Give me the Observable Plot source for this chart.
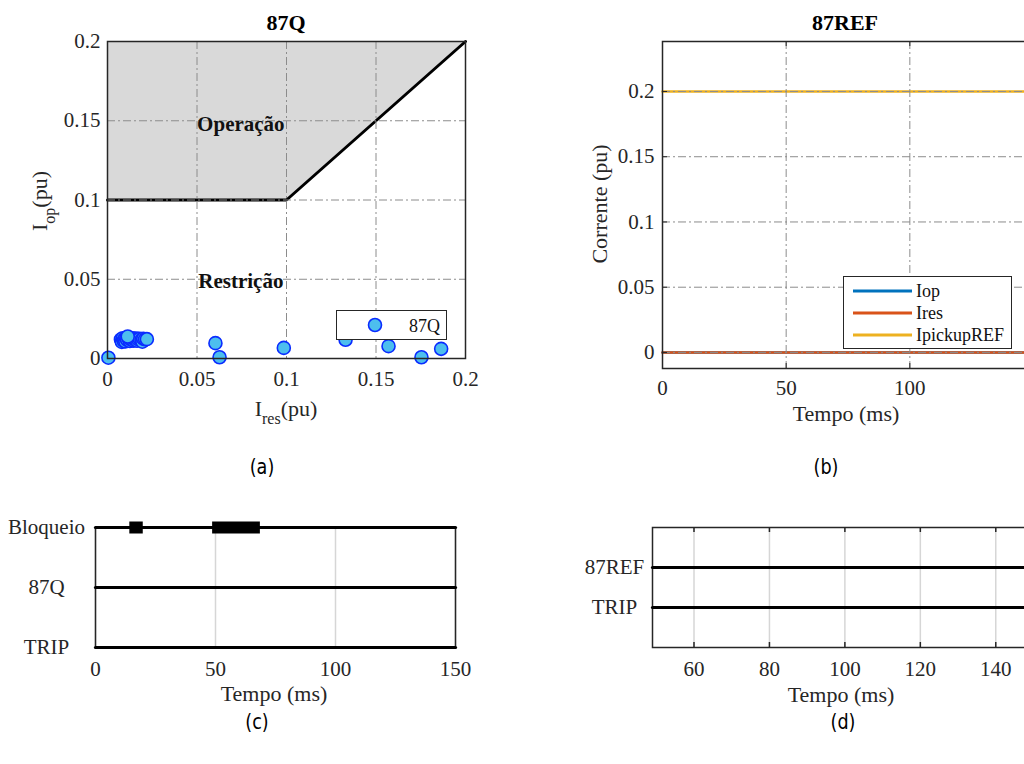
<!DOCTYPE html>
<html>
<head>
<meta charset="utf-8">
<script src="https://cdn.jsdelivr.net/npm/d3@7"></script>
<script src="https://cdn.jsdelivr.net/npm/@observablehq/plot@0.6"></script>
<style>
  body { margin: 0; background: #fff; }
  #fig { position: relative; width: 1024px; height: 764px; overflow: hidden; background: #fff;
         font-family: "Liberation Serif", "Times New Roman", serif; color: #262626; }
  .panel { position: absolute; width: 500px; }
  .panel svg { max-width: none !important; }
  .lbl { position: absolute; white-space: nowrap; line-height: 1; }
  .legend { position: absolute; background: #fff; border: 1.5px solid #262626; box-sizing: border-box;
            font-family: "Liberation Serif", serif; font-size: 18px; color: #111; }
  .legend .row { position: absolute; white-space: nowrap; line-height: 1; }
</style>
</head>
<body>
<div id="fig"></div>
<script>
// ---------------- DATA ----------------
// (a) 87Q characteristic
const charIres = [0, 0.1, 0.2];
const charIop  = [0.1, 0.1, 0.2];
// (a) measured operating points
const ptIres = [0.0005, 0.0603, 0.0626, 0.0985, 0.133, 0.157, 0.1754, 0.1864,
  0.0075, 0.0080, 0.0085, 0.0090, 0.0095, 0.0100, 0.0105, 0.0110, 0.0120, 0.0125, 0.0130,
  0.0140, 0.0145, 0.0150, 0.0160, 0.0165, 0.0170, 0.0180, 0.0190, 0.0195, 0.0200, 0.0210, 0.0220, 0.0113];
const ptIop = [0.0005, 0.0097, 0.0008, 0.0067, 0.0118, 0.0078, 0.0008, 0.0061,
  0.0120, 0.0105, 0.0128, 0.0112, 0.0122, 0.0108, 0.0130, 0.0118, 0.0125, 0.0110, 0.0121,
  0.0127, 0.0113, 0.0123, 0.0126, 0.0112, 0.0122, 0.0124, 0.0118, 0.0106, 0.0125, 0.0121, 0.0122, 0.0139];
const ticksA = [0, 0.05, 0.1, 0.15, 0.2];
const tickLabelsA = ["0", "0.05", "0.1", "0.15", "0.2"];
const regionNames = ["Operação", "Restrição"];
const regionIres  = [0.0745, 0.0745];
const regionIop   = [0.148, 0.049];

// (b) 87REF currents
const tempoB = [0, 150];
const seriesNames  = ["Iop", "Ires", "IpickupREF"];
const seriesColors = ["#0072BD", "#D95319", "#EDB120"];
const iopB  = [0, 0];
const iresB = [0, 0];
const ipickupB = [0.2, 0.2];
const ticksBx = [0, 50, 100, 150];
const tickLabelsBx = ["0", "50", "100", ""];   // 150 falls outside the cropped figure
const ticksBy = [0, 0.05, 0.1, 0.15, 0.2];
const tickLabelsBy = ["0", "0.05", "0.1", "0.15", "0.2"];

// (c) digital signals 87Q
const signalsC = ["TRIP", "87Q", "Bloqueio"];
const levelsC  = [0, 1, 2];
const tempoC   = [0, 150];
const blockStart = [14.3, 48.8];
const blockEnd   = [19.9, 68.7];
const ticksC = [0, 50, 100, 150];

// (d) digital signals 87REF
const signalsD = ["TRIP", "87REF"];
const levelsD  = [1, 2];
const tempoD   = [49, 150];
const ticksD   = [60, 80, 100, 120, 140];

// ---------------- HELPERS ----------------
const fig = document.getElementById("fig");
const FONT = "Liberation Serif, Times New Roman, serif";
const baseStyle = { fontFamily: FONT, fontSize: "21px", color: "#262626", background: "transparent", overflow: "visible" };
const tickText = { fontFamily: FONT, fontSize: 21, fill: "#262626" };
const gridDash = "8,3,2,3";

function place(node, left, top) {
  const w = document.createElement("div");
  w.className = "panel"; w.style.left = left + "px"; w.style.top = top + "px";
  w.appendChild(node); fig.appendChild(w);
}
function addLabel(html, x, y, o = {}) {
  const d = document.createElement("div");
  d.className = "lbl"; d.innerHTML = html;
  d.style.left = x + "px"; d.style.top = y + "px";
  d.style.fontSize = (o.size || 22) + "px";
  if (o.bold) d.style.fontWeight = "bold";
  if (o.family) d.style.fontFamily = o.family;
  if (o.color) d.style.color = o.color;
  d.style.transform = "translate(-50%,-50%)" + (o.rotate ? ` rotate(${o.rotate}deg)` : "") + (o.sx ? ` scaleX(${o.sx})` : "");
  fig.appendChild(d);
}
const fmt = (ticks, labels) => d => labels[ticks.indexOf(d)] ?? String(d);

// ---------------- (a) ----------------
const charData = charIres.map((x, i) => ({ x, y: charIop[i], top: ticksA[ticksA.length - 1] }));
const ptsData = ptIres.map((x, i) => ({ x, y: ptIop[i] }));
const regions = regionNames.map((t, i) => ({ t, x: regionIres[i], y: regionIop[i] }));

const plotA = Plot.plot({
  width: 500, height: 430,
  marginLeft: 107, marginRight: 35, marginTop: 41, marginBottom: 72,
  style: baseStyle,
  x: { domain: [0, 0.2] }, y: { domain: [0, 0.2] },
  marks: [
    Plot.areaY(charData, { x: "x", y1: "y", y2: "top", fill: "#d9d9d9" }),
    Plot.line(charData, { x: "x", y: "y", stroke: "#000", strokeWidth: 3 }),
    Plot.gridX(ticksA, { stroke: "#8c8c8c", strokeOpacity: 1, strokeDasharray: gridDash }),
    Plot.gridY(ticksA, { stroke: "#8c8c8c", strokeOpacity: 1, strokeDasharray: gridDash }),
    Plot.text(regions, { x: "x", y: "y", text: "t", fontWeight: "bold", fontSize: 21, fontFamily: FONT, fill: "#111" }),
    Plot.dot(ptsData, { x: "x", y: "y", r: 6.5, fill: "#4DBEEE", stroke: "#0a2cff", strokeWidth: 1.6 }),
    Plot.frame({ stroke: "#262626", strokeWidth: 1.5 }),
    Plot.axisX(ticksA, { tickSize: 0, tickPadding: 13, tickFormat: fmt(ticksA, tickLabelsA), label: null, ...tickText }),
    Plot.axisY(ticksA, { tickSize: 0, tickPadding: 7, tickFormat: fmt(ticksA, tickLabelsA), label: null, ...tickText })
  ]
});
place(plotA, 0, 0);

// ---------------- (b) ----------------
const seriesB = [iopB, iresB, ipickupB].flatMap((vals, k) =>
  vals.map((v, i) => ({ t: tempoB[i], v, s: seriesNames[k] })));
const innerHB = 430 - 41 - 62, innerWB = 500 - 102 - 27;
const plotB = Plot.plot({
  width: 500, height: 430,
  marginLeft: 102, marginRight: 27, marginTop: 41, marginBottom: 62,
  style: baseStyle,
  x: { domain: [0, 150] }, y: { domain: [-0.0123, 0.2383] },
  color: { domain: seriesNames, range: seriesColors },
  marks: [
    Plot.line(seriesB, { x: "t", y: "v", z: "s", stroke: "s", strokeWidth: 2.5 }),
    Plot.gridX(ticksBx, { stroke: "#8c8c8c", strokeOpacity: 1, strokeDasharray: gridDash }),
    Plot.gridY(ticksBy, { stroke: "#8c8c8c", strokeOpacity: 1, strokeDasharray: gridDash }),
    Plot.ruleX(ticksBx, { x: d => d, insetTop: innerHB - 5, stroke: "#262626" }),
    Plot.ruleX(ticksBx, { x: d => d, insetBottom: innerHB - 5, stroke: "#262626" }),
    Plot.ruleY(ticksBy, { y: d => d, insetRight: innerWB - 5, stroke: "#262626" }),
    Plot.frame({ stroke: "#262626", strokeWidth: 1.5 }),
    Plot.axisX(ticksBx, { tickSize: 0, tickPadding: 12, tickFormat: fmt(ticksBx, tickLabelsBx), label: null, ...tickText }),
    Plot.axisY(ticksBy, { tickSize: 0, tickPadding: 8, tickFormat: fmt(ticksBy, tickLabelsBy), label: null, ...tickText })
  ]
});
place(plotB, 560, 0);

// ---------------- (c) ----------------
const linesC = signalsC.flatMap((s, k) => tempoC.map(t => ({ t, level: levelsC[k], s })));
const blocksC = blockStart.map((a, i) => ({ a, b: blockEnd[i], level: levelsC[signalsC.indexOf("Bloqueio")] }));
const namesC = signalsC.map((s, k) => ({ s, level: levelsC[k] }));
const plotC = Plot.plot({
  width: 500, height: 240,
  marginLeft: 95, marginRight: 45, marginTop: 47, marginBottom: 73,
  style: baseStyle,
  x: { domain: [0, 150] }, y: { domain: [0, 2], axis: null },
  marks: [
    Plot.gridX(ticksC, { stroke: "#d6d6d6", strokeOpacity: 1, strokeWidth: 1.5 }),
    Plot.frame({ stroke: "#262626", strokeWidth: 1.5 }),
    Plot.line(linesC, { x: "t", y: "level", z: "s", stroke: "#000", strokeWidth: 3.2 }),
    Plot.ruleY(blocksC, { y: "level", x1: "a", x2: "b", stroke: "#000", strokeWidth: 12 }),
    Plot.axisX(ticksC, { tickSize: 0, tickPadding: 14, label: null, ...tickText }),
    Plot.text(namesC, { y: "level", text: "s", frameAnchor: "left", dx: -49, textAnchor: "middle", ...tickText })
  ]
});
place(plotC, 0, 480);

// ---------------- (d) ----------------
const linesD = signalsD.flatMap((s, k) => tempoD.map(t => ({ t, level: levelsD[k], s })));
const namesD = signalsD.map((s, k) => ({ s, level: levelsD[k] }));
const innerHD = 240 - 47 - 73;
const plotD = Plot.plot({
  width: 500, height: 240,
  marginLeft: 92, marginRight: 27, marginTop: 47, marginBottom: 73,
  style: baseStyle,
  x: { domain: [49, 150] }, y: { domain: [0, 3], axis: null },
  marks: [
    Plot.gridX(ticksD, { stroke: "#d6d6d6", strokeOpacity: 1, strokeWidth: 1.5 }),
    Plot.ruleX(ticksD, { x: d => d, insetTop: innerHD - 5, stroke: "#262626", strokeWidth: 1.5 }),
    Plot.ruleX(ticksD, { x: d => d, insetBottom: innerHD - 5, stroke: "#262626", strokeWidth: 1.5 }),
    Plot.frame({ stroke: "#262626", strokeWidth: 1.5 }),
    Plot.line(linesD, { x: "t", y: "level", z: "s", stroke: "#000", strokeWidth: 3.2 }),
    Plot.axisX(ticksD, { tickSize: 0, tickPadding: 14, label: null, ...tickText }),
    Plot.text(namesD, { y: "level", text: "s", frameAnchor: "left", dx: -38, textAnchor: "middle", ...tickText })
  ]
});
place(plotD, 560, 480);

// ---------------- titles, axis labels, captions ----------------
const sub = t => `<span style="font-size:16px;position:relative;top:8px">${t}</span>`;
addLabel("87Q", 286, 23, { bold: true, size: 22, color: "#000" });
addLabel("87REF", 845, 23, { bold: true, size: 22, color: "#000" });
addLabel(`I${sub("op")}(pu)`, 40, 201, { rotate: -90 });
addLabel(`I${sub("res")}(pu)`, 286, 409);
addLabel("Corrente (pu)", 600, 204, { rotate: -90 });
addLabel("Tempo (ms)", 846, 414);
addLabel("Tempo (ms)", 274, 694);
addLabel("Tempo (ms)", 841, 695);
const capFont = "DejaVu Sans, sans-serif";
addLabel("(a)", 262, 467, { family: capFont, size: 22, sx: 0.8, color: "#000" });
addLabel("(b)", 826, 467, { family: capFont, size: 22, sx: 0.8, color: "#000" });
addLabel("(c)", 257, 722, { family: capFont, size: 22, sx: 0.8, color: "#000" });
addLabel("(d)", 843, 722, { family: capFont, size: 22, sx: 0.8, color: "#000" });

// ---------------- legends ----------------
(function () {
  const lg = document.createElement("div");
  lg.className = "legend";
  Object.assign(lg.style, { left: "336px", top: "310px", width: "111px", height: "30px" });
  lg.innerHTML = `<svg width="111" height="30" style="position:absolute;left:-1.5px;top:-1.5px">
      <circle cx="39" cy="15" r="6.5" fill="#4DBEEE" stroke="#0a2cff" stroke-width="1.6"/></svg>
      <div class="row" style="left:72px;top:6px">87Q</div>`;
  fig.appendChild(lg);

  const lb = document.createElement("div");
  lb.className = "legend";
  Object.assign(lb.style, { left: "843px", top: "276px", width: "169px", height: "73px" });
  let html = `<svg width="169" height="73" style="position:absolute;left:-1.5px;top:-1.5px">`;
  seriesNames.forEach((n, i) => {
    const y = 15 + i * 22;
    html += `<line x1="10" x2="69" y1="${y}" y2="${y}" stroke="${seriesColors[i]}" stroke-width="3"/>`;
  });
  html += `</svg>`;
  seriesNames.forEach((n, i) => {
    html += `<div class="row" style="left:72px;top:${5 + i * 22}px">${n}</div>`;
  });
  lb.innerHTML = html;
  fig.appendChild(lb);
})();
</script>
</body>
</html>
